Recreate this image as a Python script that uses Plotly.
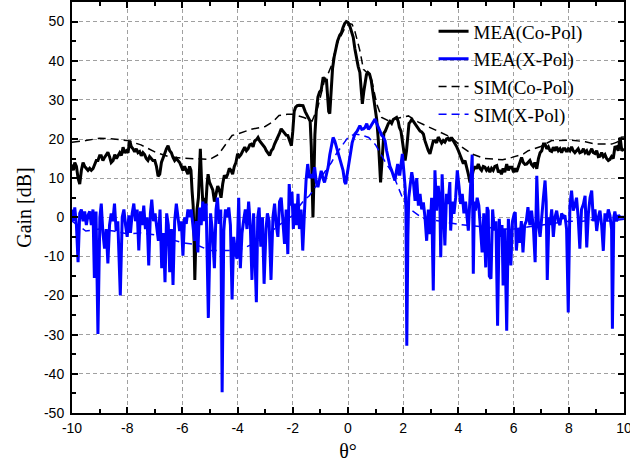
import plotly.graph_objects as go

# ---------------- data ----------------
# Measured co-polar pattern (theta in degrees, gain in dB)
mea_co_theta = [
    -10.00, -9.95, -9.90, -9.84, -9.78, -9.72, -9.66, -9.60, -9.54, -9.48, -9.42, -9.36, -9.30, -9.24,
    -9.18, -9.12, -9.06, -9.00, -8.94, -8.88, -8.82, -8.76, -8.70, -8.64, -8.58, -8.51, -8.45, -8.39,
    -8.33, -8.27, -8.21, -8.15, -8.09, -8.03, -7.97, -7.91, -7.85, -7.79, -7.73, -7.67, -7.61, -7.55,
    -7.49, -7.43, -7.37, -7.31, -7.25, -7.19, -7.13, -7.07, -7.00, -6.94, -6.88, -6.82, -6.76, -6.70,
    -6.64, -6.58, -6.52, -6.46, -6.40, -6.34, -6.28, -6.22, -6.16, -6.10, -6.04, -5.98, -5.92, -5.86,
    -5.80, -5.74, -5.69, -5.65, -5.61, -5.58, -5.55, -5.51, -5.47, -5.42, -5.38, -5.35, -5.31, -5.27,
    -5.23, -5.19, -5.15, -5.11, -5.07, -5.02, -4.96, -4.90, -4.84, -4.78, -4.72, -4.66, -4.60, -4.54,
    -4.48, -4.42, -4.36, -4.30, -4.24, -4.18, -4.12, -4.06, -4.00, -3.94, -3.88, -3.81, -3.74, -3.68,
    -3.62, -3.56, -3.50, -3.44, -3.38, -3.32, -3.26, -3.20, -3.14, -3.08, -3.02, -2.96, -2.90, -2.84,
    -2.78, -2.72, -2.66, -2.60, -2.54, -2.48, -2.42, -2.36, -2.30, -2.24, -2.18, -2.12, -2.05, -2.00,
    -1.95, -1.90, -1.84, -1.77, -1.70, -1.63, -1.55, -1.48, -1.42, -1.37, -1.33, -1.30, -1.27, -1.24,
    -1.20, -1.15, -1.09, -1.03, -0.97, -0.90, -0.84, -0.78, -0.74, -0.70, -0.66, -0.62, -0.56, -0.50,
    -0.44, -0.38, -0.30, -0.24, -0.18, -0.12, -0.06, 0.00, 0.06, 0.12, 0.19, 0.25, 0.31, 0.37,
    0.43, 0.48, 0.52, 0.57, 0.62, 0.67, 0.72, 0.78, 0.84, 0.90, 0.98, 1.04, 1.10, 1.15,
    1.18, 1.22, 1.26, 1.30, 1.35, 1.40, 1.46, 1.52, 1.58, 1.64, 1.70, 1.76, 1.82, 1.86,
    1.92, 1.97, 2.02, 2.07, 2.12, 2.17, 2.21, 2.25, 2.31, 2.37, 2.43, 2.49, 2.55, 2.61,
    2.67, 2.73, 2.79, 2.85, 2.91, 2.97, 3.03, 3.09, 3.15, 3.21, 3.27, 3.33, 3.39, 3.45,
    3.51, 3.57, 3.63, 3.69, 3.75, 3.81, 3.87, 3.94, 4.00, 4.06, 4.12, 4.18, 4.24, 4.30,
    4.36, 4.42, 4.48, 4.54, 4.60, 4.66, 4.72, 4.78, 4.84, 4.90, 4.96, 5.02, 5.08, 5.14,
    5.20, 5.26, 5.32, 5.39, 5.45, 5.51, 5.56, 5.62, 5.68, 5.75, 5.81, 5.87, 5.94, 6.00,
    6.05, 6.11, 6.17, 6.23, 6.29, 6.35, 6.41, 6.47, 6.53, 6.59, 6.65, 6.71, 6.77, 6.84,
    6.90, 6.96, 7.02, 7.08, 7.14, 7.20, 7.26, 7.32, 7.38, 7.44, 7.50, 7.56, 7.62, 7.68,
    7.74, 7.80, 7.86, 7.92, 7.98, 8.04, 8.10, 8.16, 8.22, 8.28, 8.34, 8.40, 8.47, 8.53,
    8.59, 8.65, 8.71, 8.77, 8.83, 8.89, 8.95, 9.01, 9.07, 9.13, 9.19, 9.25, 9.31, 9.37,
    9.43, 9.49, 9.55, 9.61, 9.67, 9.73, 9.79, 9.86, 9.92, 10.00,
]
mea_co_gain = [
    13.5, 12.0, 14.0, 13.0, 10.0, 8.5, 12.0, 14.0, 13.0, 12.5, 12.0, 12.5, 12.0, 12.4,
    13.5, 14.5, 14.5, 15.7, 15.7, 14.5, 15.3, 16.0, 16.6, 15.5, 14.0, 14.5, 16.0, 15.0,
    15.7, 16.5, 15.8, 17.9, 16.5, 17.0, 16.5, 19.6, 18.0, 17.5, 16.7, 17.5, 16.5, 16.8,
    15.7, 16.5, 16.0, 15.0, 14.5, 15.5, 15.0, 14.5, 14.5, 13.0, 10.5, 11.0, 14.0, 15.0,
    16.3, 17.5, 18.3, 17.0, 16.5, 15.3, 14.5, 15.0, 14.5, 14.0, 13.0, 12.0, 13.0, 12.0,
    11.0, 13.0, 12.0, 6.8, 3.0, -5.0, -16.0, -5.0, 2.0, 5.0, 12.0, 17.5, 10.0, 3.0,
    0.0, 5.0, 3.0, 8.0, 11.0, 9.0, 8.0, 7.0, 4.0, 6.0, 8.0, 6.9, 5.0, 8.5,
    10.7, 10.0, 11.0, 12.5, 12.0, 11.0, 13.0, 14.0, 16.2, 15.5, 16.0, 17.0, 17.9, 17.0,
    17.5, 18.5, 18.7, 18.0, 19.5, 19.8, 20.4, 19.5, 19.0, 18.5, 17.9, 17.0, 16.5, 15.8,
    17.0, 17.5, 18.7, 19.5, 20.5, 21.5, 22.6, 22.0, 21.5, 21.0, 20.9, 19.5, 18.3, 22.0,
    27.0, 28.1, 28.5, 28.6, 28.5, 28.5, 27.0, 26.0, 25.0, 24.5, 18.0, 8.0, 0.0, 8.0,
    21.0, 27.0, 30.7, 32.0, 32.5, 35.8, 35.0, 35.0, 32.0, 27.0, 26.5, 32.0, 38.0, 41.0,
    43.0, 45.0, 46.5, 47.1, 48.5, 49.5, 50.0, 49.8, 49.0, 47.5, 46.0, 43.0, 40.5, 38.5,
    37.0, 33.0, 29.0, 32.0, 35.0, 36.5, 37.0, 36.6, 35.0, 32.0, 28.0, 25.0, 19.6, 13.0,
    8.9, 13.0, 19.0, 21.5, 22.0, 23.0, 23.9, 24.5, 24.0, 25.0, 25.2, 25.5, 24.5, 23.0,
    22.0, 19.0, 16.0, 14.5, 17.0, 21.0, 24.0, 24.3, 25.0, 24.5, 23.9, 23.0, 22.5, 22.0,
    21.8, 21.3, 19.5, 18.0, 17.0, 16.2, 18.0, 19.5, 19.6, 19.0, 20.5, 19.8, 19.0, 19.6,
    19.2, 20.0, 20.2, 19.5, 20.4, 19.6, 19.0, 18.0, 17.0, 16.0, 15.0, 13.7, 14.5, 13.0,
    11.0, 8.9, 10.0, 12.0, 13.0, 12.4, 13.6, 12.5, 12.0, 13.0, 12.8, 12.0, 12.5, 11.5,
    12.5, 12.0, 13.0, 13.2, 11.5, 12.0, 11.0, 12.5, 11.5, 13.6, 12.0, 12.8, 12.8, 11.5,
    12.5, 11.6, 13.0, 14.5, 15.3, 14.0, 13.5, 13.6, 14.0, 14.5, 13.5, 13.0, 14.0, 12.4,
    15.0, 16.5, 17.0, 18.7, 18.7, 17.5, 18.0, 17.0, 16.8, 17.9, 17.0, 18.0, 17.0, 17.5,
    16.5, 17.5, 17.5, 16.7, 17.5, 17.0, 18.0, 17.0, 16.5, 17.0, 17.5, 16.5, 16.7, 17.5,
    16.5, 17.0, 16.0, 16.7, 17.5, 16.5, 16.3, 17.0, 15.5, 15.6, 16.5, 15.5, 16.0, 15.0,
    14.5, 14.8, 15.5, 15.0, 17.9, 18.0, 17.0, 20.4, 17.0, 17.5,
]

# Measured cross-polar pattern
mea_x_theta = [
    -10.00, -9.95, -9.90, -9.84, -9.78, -9.72, -9.66, -9.60, -9.54, -9.48, -9.42, -9.36, -9.30, -9.24,
    -9.19, -9.13, -9.06, -8.99, -8.94, -8.88, -8.82, -8.76, -8.70, -8.64, -8.58, -8.52, -8.46, -8.40,
    -8.34, -8.25, -8.18, -8.12, -8.06, -8.00, -7.94, -7.88, -7.82, -7.76, -7.70, -7.64, -7.58, -7.52,
    -7.46, -7.40, -7.34, -7.28, -7.22, -7.16, -7.11, -7.05, -6.99, -6.93, -6.87, -6.81, -6.75, -6.69,
    -6.63, -6.57, -6.51, -6.46, -6.40, -6.34, -6.28, -6.22, -6.16, -6.10, -6.04, -5.98, -5.92, -5.86,
    -5.80, -5.74, -5.68, -5.62, -5.56, -5.50, -5.44, -5.38, -5.32, -5.26, -5.20, -5.14, -5.06, -4.98,
    -4.92, -4.84, -4.78, -4.73, -4.67, -4.61, -4.56, -4.50, -4.44, -4.38, -4.32, -4.26, -4.20, -4.14,
    -4.08, -4.02, -3.96, -3.90, -3.84, -3.78, -3.72, -3.66, -3.60, -3.54, -3.48, -3.42, -3.38, -3.32,
    -3.27, -3.22, -3.16, -3.10, -3.04, -2.97, -2.92, -2.86, -2.79, -2.72, -2.66, -2.60, -2.54, -2.48,
    -2.42, -2.36, -2.30, -2.24, -2.18, -2.13, -2.08, -2.03, -1.98, -1.93, -1.87, -1.81, -1.76, -1.70,
    -1.64, -1.58, -1.52, -1.46, -1.40, -1.33, -1.27, -1.21, -1.15, -1.09, -1.03, -0.97, -0.91, -0.85,
    -0.78, -0.72, -0.66, -0.60, -0.54, -0.48, -0.42, -0.36, -0.30, -0.24, -0.18, -0.12, -0.08, -0.03,
    0.03, 0.08, 0.15, 0.25, 0.33, 0.43, 0.50, 0.56, 0.62, 0.68, 0.74, 0.80, 0.88, 0.98,
    1.04, 1.10, 1.16, 1.22, 1.28, 1.34, 1.40, 1.46, 1.52, 1.58, 1.64, 1.70, 1.76, 1.80,
    1.85, 1.88, 1.93, 1.97, 2.02, 2.07, 2.10, 2.13, 2.17, 2.20, 2.25, 2.31, 2.37, 2.43,
    2.49, 2.55, 2.61, 2.67, 2.73, 2.79, 2.85, 2.91, 2.97, 3.03, 3.09, 3.15, 3.21, 3.27,
    3.33, 3.36, 3.41, 3.45, 3.51, 3.57, 3.63, 3.69, 3.72, 3.78, 3.84, 3.90, 3.96, 4.02,
    4.08, 4.14, 4.20, 4.26, 4.32, 4.36, 4.42, 4.46, 4.50, 4.54, 4.58, 4.62, 4.68, 4.74,
    4.80, 4.86, 4.92, 4.99, 5.04, 5.08, 5.12, 5.18, 5.24, 5.30, 5.36, 5.42, 5.48, 5.52,
    5.58, 5.62, 5.68, 5.75, 5.81, 5.86, 5.90, 5.96, 6.02, 6.06, 6.10, 6.16, 6.22, 6.28,
    6.34, 6.40, 6.46, 6.52, 6.59, 6.65, 6.72, 6.78, 6.84, 6.90, 6.96, 7.02, 7.08, 7.14,
    7.18, 7.22, 7.28, 7.32, 7.38, 7.44, 7.50, 7.56, 7.62, 7.68, 7.74, 7.80, 7.86, 7.92,
    7.98, 8.04, 8.10, 8.16, 8.22, 8.28, 8.34, 8.40, 8.46, 8.53, 8.59, 8.65, 8.71, 8.77,
    8.83, 8.89, 8.95, 9.01, 9.07, 9.13, 9.19, 9.25, 9.31, 9.37, 9.43, 9.49, 9.55, 9.58,
    9.63, 9.67, 9.73, 9.80, 9.86, 9.92, 10.00,
]
mea_x_gain = [
    2.0, -1.0, 2.5, -2.0, -11.5, 1.0, 2.0, -1.0, 1.5, -2.0, 0.5, 1.5, -2.0, 2.0,
    -15.5, 1.5, -29.8, 0.0, 3.5, -4.0, -8.0, -3.0, -11.8, -2.0, 1.0, -1.0, 3.5, -3.5,
    -1.0, -20.0, 0.0, 2.0, -2.0, -5.0, 0.5, -4.0, 1.0, 3.5, -1.0, 2.0, -8.5, 1.5,
    -2.0, 3.0, -3.0, 0.0, -12.3, 1.0, 4.5, -1.0, 1.0, -3.0, -6.0, 2.0, -13.0, -4.0,
    -16.6, 1.0, -2.0, -14.0, -3.0, -17.3, -1.0, 3.5, 0.0, -3.5, -1.0, -9.8, 0.0, -1.7,
    2.0, 0.0, 2.0, -3.0, -6.0, -1.0, -9.0, 2.5, -2.0, 4.0, -1.0, 3.5, -25.7, 1.0,
    -3.0, -13.0, 2.0, 5.0, -1.7, 2.0, -44.7, -3.5, 2.0, 0.0, 2.5, -2.0, -21.0, -5.0,
    -9.0, -10.6, 5.0, -13.0, -4.0, -0.7, 2.0, -3.0, 4.0, -2.0, -16.0, 1.0, -8.0, -21.7,
    0.0, 2.5, -7.5, 0.0, -17.0, -3.0, 1.0, -1.0, -16.0, 0.0, 3.5, -2.0, -5.0, 4.0,
    5.0, -2.0, -6.8, 2.0, -9.4, 8.5, 3.0, 6.5, -3.0, 3.5, -2.0, 6.0, -3.0, 2.0,
    -8.5, 1.0, 9.4, 13.6, 10.0, 11.0, 10.0, 12.8, 9.0, 7.7, 10.0, 11.9, 10.0, 8.9,
    11.0, 12.8, 16.0, 18.5, 20.4, 19.5, 18.0, 17.0, 15.5, 14.0, 12.0, 9.0, 8.5, 11.0,
    13.5, 16.2, 19.0, 21.3, 22.0, 23.4, 22.5, 22.6, 23.0, 23.9, 22.5, 23.0, 24.0, 25.1,
    24.0, 23.0, 22.0, 21.0, 20.5, 19.6, 17.0, 14.5, 13.0, 12.0, 10.5, 9.4, 12.0, 13.6,
    11.0, 11.0, 14.0, 16.2, 12.0, 7.7, 1.7, -32.8, -5.0, 5.0, 8.0, 11.5, 9.0, 4.2,
    10.0, 3.0, 6.0, 2.0, 3.8, 0.0, -6.0, 2.0, -4.3, 5.0, -18.7, 12.0, 1.7, 8.0,
    3.0, -10.2, 11.0, 5.0, -7.2, 6.0, 3.4, 9.0, -3.4, 4.0, 0.9, 5.0, 12.0, 8.0,
    3.4, 6.0, 1.0, 4.0, -1.0, -3.4, 5.0, 12.0, 16.0, -14.4, 4.0, 1.7, 5.0, 3.0,
    -2.0, -9.0, 1.0, -12.8, 2.6, 1.7, -15.0, -15.7, 2.0, -3.4, -1.0, -27.7, -0.4, -5.0,
    -2.0, -17.4, -3.0, -29.0, -0.4, -5.0, -12.3, -1.0, 0.9, 1.3, -8.5, -3.0, -6.5, -1.0,
    -9.0, -2.0, -1.0, 2.6, -2.0, 1.7, -3.0, -11.5, 10.6, -2.0, -5.0, 1.0, 5.0, 9.4,
    4.0, -16.0, 0.0, -2.0, 2.0, -5.0, 0.0, 1.7, -1.0, -2.0, 1.0, 0.0, 0.5, -3.0,
    -24.3, 3.0, 6.8, 1.7, 3.0, 5.0, 0.0, -8.0, 2.0, 3.4, 5.5, -7.7, 1.0, 5.0,
    6.8, -1.0, 2.0, -3.5, 0.0, 1.7, -2.0, -8.6, 1.0, -1.0, 2.0, 0.5, -3.0, -28.5,
    0.0, 1.5, -1.0, 0.5, 0.0, 0.0, 0.0,
]

# Simulated co-polar pattern
sim_co_theta = [
    -10.0, -9.5, -9.0, -8.5, -8.0, -7.5, -7.0, -6.5, -6.0, -5.5, -5.0, -4.7, -4.4, -4.2,
    -4.0, -3.5, -3.0, -2.7, -2.5, -2.2, -2.0, -1.6, -1.3, -1.1, -0.97, -0.85, -0.72, -0.58,
    -0.42, -0.24, -0.10, 0.05, 0.15, 0.25, 0.35, 0.43, 0.56, 0.68, 0.86, 1.04, 1.22, 1.46,
    1.80, 2.19, 2.55, 3.15, 3.75, 4.12, 4.48, 4.96, 5.60, 5.94, 6.36, 6.53, 6.96, 7.38,
    8.10, 8.60, 8.95, 9.55, 9.75, 9.86, 10.0,
]
sim_co_gain = [
    19.2, 19.6, 20.2, 20.0, 19.6, 18.5, 16.7, 15.5, 15.1, 15.0, 14.8, 16.0, 19.0, 20.9,
    21.3, 22.5, 23.2, 24.5, 26.0, 26.3, 26.3, 25.5, 24.6, 28.0, 31.6, 35.0, 36.7, 39.1,
    44.0, 46.7, 48.5, 49.5, 49.3, 47.5, 44.5, 42.6, 37.8, 37.0, 35.0, 29.0, 25.5, 24.7,
    25.3, 25.9, 24.3, 22.3, 20.4, 18.0, 16.2, 15.0, 14.7, 15.3, 16.2, 17.0, 18.0, 19.6,
    19.7, 19.3, 18.7, 18.7, 19.2, 20.4, 20.5,
]

# Simulated cross-polar pattern
sim_x_theta = [
    -10.0, -9.5, -9.0, -8.5, -8.0, -7.5, -7.0, -6.5, -6.0, -5.5, -5.0, -4.5, -4.0, -3.5,
    -3.0, -2.5, -2.0, -1.8, -1.6, -1.4, -1.2, -1.0, -0.8, -0.6, -0.4, -0.2, 0.0, 0.25,
    0.5, 0.75, 1.0, 1.2, 1.4, 1.6, 1.8, 2.0, 2.3, 2.7, 3.0, 3.5, 4.0, 4.5, 5.0, 5.5,
    6.0, 6.5, 7.0, 7.5, 8.0, 8.5, 9.0, 9.5, 10.0,
]
sim_x_gain = [
    -1.0, -3.5, -3.0, -3.5, -4.2, -4.0, -4.5, -5.5, -6.5, -7.0, -8.5, -8.5, -8.5, -7.0,
    -5.0, -2.0, 0.5, 2.5, 4.3, 5.5, 7.5, 10.0, 12.0, 14.0, 16.5, 18.5, 20.4, 21.3,
    21.0, 20.4, 18.5, 16.0, 13.5, 11.5, 8.0, 4.5, 1.8, -0.2, -0.6, -1.2, -1.8, -2.2, -2.5, -3.0,
    -3.0, -2.5, -2.0, -1.5, -1.0, -1.0, -0.5, -1.0, -0.5,
]

series_names = ["MEA(Co-Pol)", "MEA(X-Pol)", "SIM(Co-Pol)", "SIM(X-Pol)"]

x_ticks = [-10, -8, -6, -4, -2, 0, 2, 4, 6, 8, 10]
y_ticks = [-50, -40, -30, -20, -10, 0, 10, 20, 30, 40, 50]

# ---------------- figure ----------------
SERIF = "Liberation Serif, Times New Roman, serif"
SANS = "Liberation Sans, Arial, sans-serif"

fig = go.Figure()
fig.add_trace(go.Scatter(x=mea_co_theta, y=mea_co_gain, mode="lines", name=series_names[0],
                         line=dict(color="#000000", width=3)))
fig.add_trace(go.Scatter(x=mea_x_theta, y=mea_x_gain, mode="lines", name=series_names[1],
                         line=dict(color="#0000ff", width=3)))
fig.add_trace(go.Scatter(x=sim_co_theta, y=sim_co_gain, mode="lines", name=series_names[2],
                         line=dict(color="#000000", width=1.5, dash="8px,5px")))
fig.add_trace(go.Scatter(x=sim_x_theta, y=sim_x_gain, mode="lines", name=series_names[3],
                         line=dict(color="#0000ff", width=1.5, dash="8px,5px")))

axis_common = dict(
    showline=True, linecolor="#000000", linewidth=2, mirror="allticks",
    ticks="inside", ticklen=6, tickwidth=1.5, tickcolor="#000000",
    showgrid=True, gridcolor="#a0a0a0", gridwidth=1, griddash="4px,3px",
    zeroline=False,
    tickfont=dict(family=SANS, size=14, color="#000000"),
    ticklabeloverflow="allow",
)

fig.update_xaxes(
    range=[-10, 10], tickvals=x_ticks, ticktext=[str(v) for v in x_ticks],
    minor=dict(dtick=1, ticks="inside", ticklen=4, tickwidth=1.5, tickcolor="#000000", showgrid=False),
    title=dict(text="θ°", font=dict(family=SERIF, size=20, color="#000000"), standoff=9),
    ticklabelstandoff=1,
    **axis_common,
)
fig.update_yaxes(
    range=[-50, 55], tickvals=y_ticks, ticktext=[str(v) for v in y_ticks],
    minor=dict(dtick=5, ticks="inside", ticklen=4, tickwidth=1.5, tickcolor="#000000", showgrid=False),
    title=dict(text="Gain [dB]", font=dict(family=SERIF, size=20, color="#000000"), standoff=7),
    ticklabelstandoff=3,
    **axis_common,
)

fig.update_layout(
    width=630, height=467,
    margin=dict(l=72, r=6, t=2, b=54, autoexpand=False),
    paper_bgcolor="#ffffff", plot_bgcolor="#ffffff",
    showlegend=True,
    legend=dict(
        x=0.655, y=0.975, xanchor="left", yanchor="top",
        bgcolor="rgba(0,0,0,0)", borderwidth=0,
        font=dict(family=SERIF, size=19, color="#000000"),
        tracegroupgap=0, itemwidth=30,
    ),
)

fig.write_html(
    "out.html",
    config={"displayModeBar": False},
    post_script="document.body.style.margin='0';document.body.style.overflow='hidden';",
)
